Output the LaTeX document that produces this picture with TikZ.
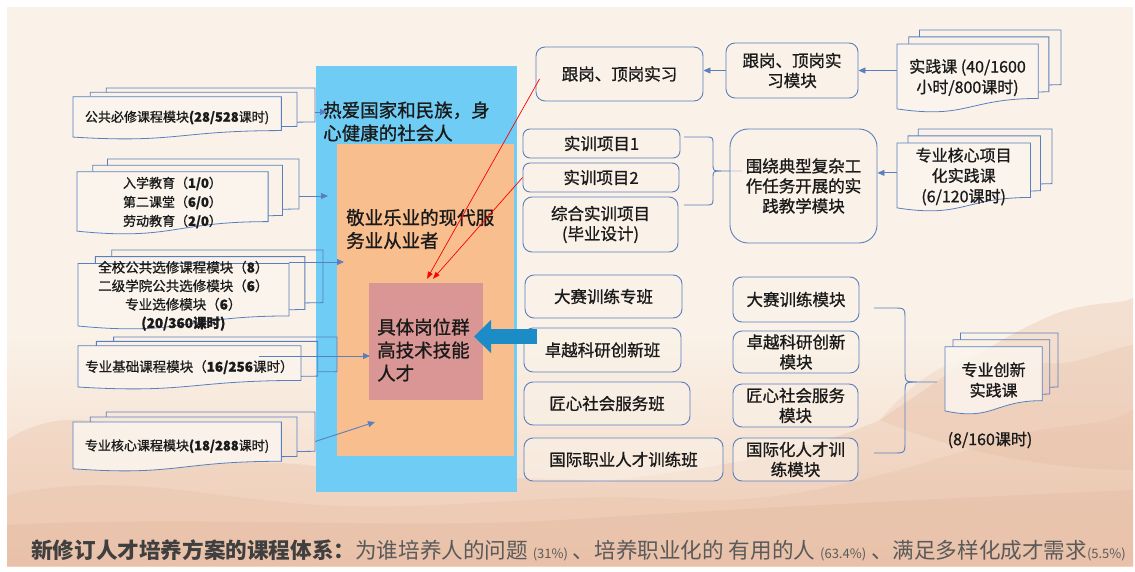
\documentclass[tikz,border=0pt]{standalone}
\usepackage{fontspec}
\setmainfont{Noto Sans CJK SC}
\newfontfamily\boxface[FakeBold=1]{Noto Sans CJK SC}
\usetikzlibrary{arrows.meta,calc}

\definecolor{bgcream}{HTML}{FAF2E8}
\definecolor{docfill}{HTML}{FBF5EE}
\definecolor{peachA}{HTML}{F2D5C2}
\definecolor{peachB}{HTML}{E9BFA5}
\definecolor{peachC}{HTML}{DFAC90}
\definecolor{skyblue}{HTML}{6FCDF5}
\definecolor{apricot}{HTML}{F8BE8E}
\definecolor{rosebox}{HTML}{D99694}
\definecolor{lineblue}{HTML}{5A7FBE}
\definecolor{arrowblue}{HTML}{1B8CC6}
\definecolor{textdark}{HTML}{1A1A1A}
\definecolor{capdark}{HTML}{3F3F3F}
\definecolor{capgray}{HTML}{5A5A5A}

\newcommand\docfont{\boxface\fontsize{13}{19}\selectfont}
\newcommand\docfontb{\boxface\fontsize{13.5}{18.5}\selectfont}
\newcommand\rdocfont{\boxface\fontsize{16}{20.5}\selectfont}
\newcommand\bxfont{\boxface\fontsize{16.5}{20}\selectfont}
\newcommand\ctrfont{\boxface\fontsize{18.5}{23}\selectfont}
\newcommand\capbig{\fontsize{21.6}{24}\selectfont}
\newcommand\capsmall{\fontsize{13}{14}\selectfont}

% stacked documents: name, left, top, right, bottom, font, text
\newcommand\mdoc[7]{%
  \draw[docline] ({#2+0.1376*(#4-#2)},{#3+0.084*(#5-#3)}) -- ({#2+0.1376*(#4-#2)},{#3})
     -- ({#4},{#3}) -- ({#4},{#3+0.666*(#5-#3)}) -- ({#2+0.926*(#4-#2)},{#3+0.67*(#5-#3)});
  \draw[docline] ({#2+0.071*(#4-#2)},{#3+0.17*(#5-#3)}) -- ({#2+0.071*(#4-#2)},{#3+0.084*(#5-#3)})
     -- ({#2+0.926*(#4-#2)},{#3+0.084*(#5-#3)}) -- ({#2+0.926*(#4-#2)},{#3+0.752*(#5-#3)})
     -- ({#2+0.861*(#4-#2)},{#3+0.757*(#5-#3)});
  \filldraw[docline, fill=docfill, fill opacity=.85] ({#2},{#3+0.17*(#5-#3)}) -- ({#2+0.861*(#4-#2)},{#3+0.17*(#5-#3)})
     -- ({#2+0.861*(#4-#2)},{#3+0.835*(#5-#3)})
     .. controls ({#2+0.43*(#4-#2)},{#3+0.835*(#5-#3)}) and ({#2+0.43*(#4-#2)},{#3+1.09*(#5-#3)})
     .. ({#2},{#3+0.962*(#5-#3)}) -- cycle;
  \node[inner sep=0pt, minimum width={(#4-#2)*1pt}, minimum height={(#5-#3)*1pt}]
     (#1) at ({(#2+#4)/2},{(#3+#5)/2}) {};
  \node[inner sep=0pt, minimum width={0.861*(#4-#2)*1pt}, minimum height={0.73*(#5-#3)*1pt}]
     (#1-f) at ({#2+0.4305*(#4-#2)},{#3+0.535*(#5-#3)}) {};
  \node[doctext, font=#6] (#1-t) at ({#2+0.43*(#4-#2)},{#3+0.58*(#5-#3)}) {#7};
}

\begin{document}
\begin{tikzpicture}[x=1pt, y=-1pt,
  docline/.style={draw=lineblue, line width=0.8pt},
  doctext/.style={align=center, inner sep=0pt, text=textdark},
  rbox/.style={draw=lineblue, line width=0.9pt, rounded corners=9pt, fill=bgcream,
     fill opacity=.55, text opacity=1, inner sep=0pt, align=center, font=\bxfont, text=textdark},
  thinarrow/.style={draw=lineblue, line width=0.9pt, -{Triangle[length=7pt,width=6pt]}},
  redarrow/.style={draw=red, line width=0.7pt, -{Triangle[length=7pt,width=5pt]}},
  bracestyle/.style={draw=lineblue, line width=0.9pt},
  ctrtext/.style={anchor=west, align=left, inner sep=0pt, font=\ctrfont, text=textdark}]

\useasboundingbox (0,0) rectangle (1135,572);
\fill[white] (0,0) rectangle (1135,572);
\fill[bgcream] (7,7) rectangle (1133,566);

% faded landscape along the bottom
\shade[top color=bgcream, bottom color=peachA] (7,330) rectangle (1133,566);
\fill[peachB, opacity=.35] (7,566) -- (7,440) .. controls (60,405) and (120,420) .. (170,450)
   .. controls (230,472) and (280,455) .. (330,470) .. controls (420,492) and (520,470) .. (600,482)
   .. controls (700,470) and (800,455) .. (880,420) .. controls (940,380) and (1000,335) .. (1060,312)
   .. controls (1100,300) and (1120,305) .. (1133,298) -- (1133,566) -- cycle;
\fill[peachB, opacity=.3] (7,566) -- (7,495) .. controls (120,470) and (220,500) .. (320,505)
   .. controls (450,512) and (560,490) .. (680,500) .. controls (800,505) and (900,470) .. (1000,440)
   .. controls (1060,420) and (1100,430) .. (1133,410) -- (1133,566) -- cycle;
\fill[peachC, opacity=.22] (7,566) -- (7,525) .. controls (200,515) and (400,530) .. (560,520)
   .. controls (720,510) and (900,500) .. (1133,490) -- (1133,566) -- cycle;
\fill[peachC, opacity=.18] (880,420) .. controls (930,360) and (980,345) .. (1030,360)
   .. controls (1070,372) and (1100,350) .. (1133,345) -- (1133,470) .. controls (1050,470) and (950,450) .. (880,420) -- cycle;

% nested target groups
\node[fill=skyblue, inner sep=0pt, minimum width=201pt, minimum height=426pt] (outer) at (416.5,279) {};
\node[fill=apricot, inner sep=0pt, minimum width=177pt, minimum height=312pt] (mid) at (425.5,300) {};
\node[fill=rosebox, inner sep=0pt, minimum width=114pt, minimum height=117pt] (core) at (426,341.5) {};
\node[ctrtext] (outer-t) at (323,121.5) {热爱国家和民族，身\\心健康的社会人};
\node[ctrtext] (mid-t) at (346,229) {敬业乐业的现代服\\务业从业者};
\node[ctrtext] (core-t) at (377,350) {具体岗位群\\高技术技能\\人才};

% course modules on the left
\mdoc{doc1}{73}{88}{315}{139}{\docfont}{公共必修课程模块{\bfseries(28/528}课时)}
\mdoc{doc2}{77}{159}{299}{234}{\docfont}{入学教育（{\bfseries 1/0}）\\第二课堂（{\bfseries 6/0}）\\劳动教育（{\bfseries 2/0}）}
\mdoc{doc3}{78}{250}{323}{329}{\docfontb}{全校公共选修课程模块（{\bfseries 8}）\\二级学院公共选修模块（{\bfseries 6}）\\专业选修模块（{\bfseries 6}）\\{\bfseries(20/360课时)}}
\mdoc{doc4}{78}{337}{337}{389}{\docfontb}{专业基础课程模块（{\bfseries 16/256}课时）}
\mdoc{doc5}{73}{412}{315}{471}{\docfont}{专业核心课程模块{\bfseries(18/288}课时)}

% practice courses on the right
\mdoc{r1}{897}{30}{1061}{112}{\rdocfont}{实践课 (40/1600\\小时/800课时)}
\mdoc{r2}{897}{129}{1052}{211}{\rdocfont}{专业核心项目\\化实践课\\(6/120课时)}
\mdoc{r3}{945}{333}{1058}{414}{\rdocfont}{专业创新\\实践课}
\node[doctext, font=\rdocfont] (r3-hours) at (990,440) {(8/160课时)};

% braces grouping the training items
\draw[bracestyle] (684,137) -- (705,137) .. controls (713,137) .. (713,145) -- (713,163)
   .. controls (713,171) .. (721,171) -- (742,171);
\draw[bracestyle] (721,171) .. controls (713,171) .. (713,179) -- (713,197)
   .. controls (713,205) .. (705,205) -- (684,205);
\draw[bracestyle] (874,308) -- (893,308) .. controls (905,308) .. (905,320) -- (905,370)
   .. controls (905,382) .. (917,382) -- (937,382);
\draw[bracestyle] (917,382) .. controls (905,382) .. (905,394) -- (905,441)
   .. controls (905,453) .. (893,453) -- (874,453);

% practice boxes
\node[rbox, minimum width=167pt, minimum height=54pt] (gen1) at (619.5,74) {跟岗、顶岗实习};
\node[rbox, minimum width=132pt, minimum height=55pt] (gen2) at (792,70.5) {跟岗、顶岗实\\习模块};
\node[rbox, rounded corners=7pt, minimum width=157pt, minimum height=29pt] (sx1) at (601.5,143.5) {实训项目1};
\node[rbox, rounded corners=7pt, minimum width=156pt, minimum height=29pt] (sx2) at (601,177.5) {实训项目2};
\node[rbox, minimum width=155pt, minimum height=55pt] (sx3) at (600.5,224.5) {综合实训项目\\(毕业设计)};
\node[rbox, rounded corners=18pt, minimum width=147pt, minimum height=114pt] (wr) at (803.5,186) {围绕典型复杂工\\作任务开展的实\\践教学模块};

\node[rbox, minimum width=157pt, minimum height=43pt] (ds1) at (603.5,296.5) {大赛训练专班};
\node[rbox, minimum width=157pt, minimum height=44pt] (ds2) at (602.5,350) {卓越科研创新班};
\node[rbox, minimum width=166pt, minimum height=43pt] (ds3) at (607,403.5) {匠心社会服务班};
\node[rbox, minimum width=199pt, minimum height=43pt] (ds4) at (623.5,459.5) {国际职业人才训练班};
\node[rbox, minimum width=126pt, minimum height=45pt] (dm1) at (796,299.5) {大赛训练模块};
\node[rbox, minimum width=126pt, minimum height=42pt] (dm2) at (796,352) {卓越科研创新\\模块};
\node[rbox, minimum width=125pt, minimum height=43pt] (dm3) at (795.5,405.5) {匠心社会服务\\模块};
\node[rbox, minimum width=125pt, minimum height=43pt] (dm4) at (795.5,459.5) {国际化人才训\\练模块};

% arrow end points inside the nested groups
\coordinate (a1e) at (327,112);
\coordinate (a2e) at (328,196);
\coordinate (a3e) at (344,262);
\coordinate (a4e) at (370,356);
\coordinate (a5e) at (375,422);
\coordinate (bat) at (537,336.5);
\coordinate (bah) at (474,336.5);

\draw[thinarrow] (doc1.east |- a1e) -- (a1e);
\draw[thinarrow] (doc2.east |- a2e) -- (a2e);
\draw[thinarrow] (doc3-f.east |- a3e) -- (a3e);
\draw[thinarrow] ($(doc4-f.east |- a4e)+(-42,0)$) -- (a4e);
\draw[thinarrow] (doc5.east) -- (a5e);

\draw[thinarrow] (gen2.west) -- (gen1.east |- gen2.west);
\draw[thinarrow] (r1-f.west |- gen2.east) -- (gen2.east);
\draw[thinarrow] (r2-f.west) -- (wr.east |- r2-f.west);

\draw[redarrow] ([shift={(4pt,-5pt)}]gen1.west) -- ([shift={(1pt,4pt)}]core.north);
\draw[redarrow] (sx2.west) -- ([shift={(7pt,4pt)}]core.north);

\draw[arrowblue, line width=15pt, -{Triangle[length=17pt,width=32pt]}] (bat) -- (bah);

% caption
\node[anchor=base west, inner sep=0pt] (caption) at (31,558)
  {\capbig\bfseries\color{capdark}新修订人才培养方案的课程体系：\mdseries\color{capgray}为谁培养人的问题 {\capsmall(31\%)} 、培养职业化的 有用的人 {\capsmall(63.4\%)} 、满足多样化成才需求{\capsmall(5.5\%)}};
\end{tikzpicture}
\end{document}
